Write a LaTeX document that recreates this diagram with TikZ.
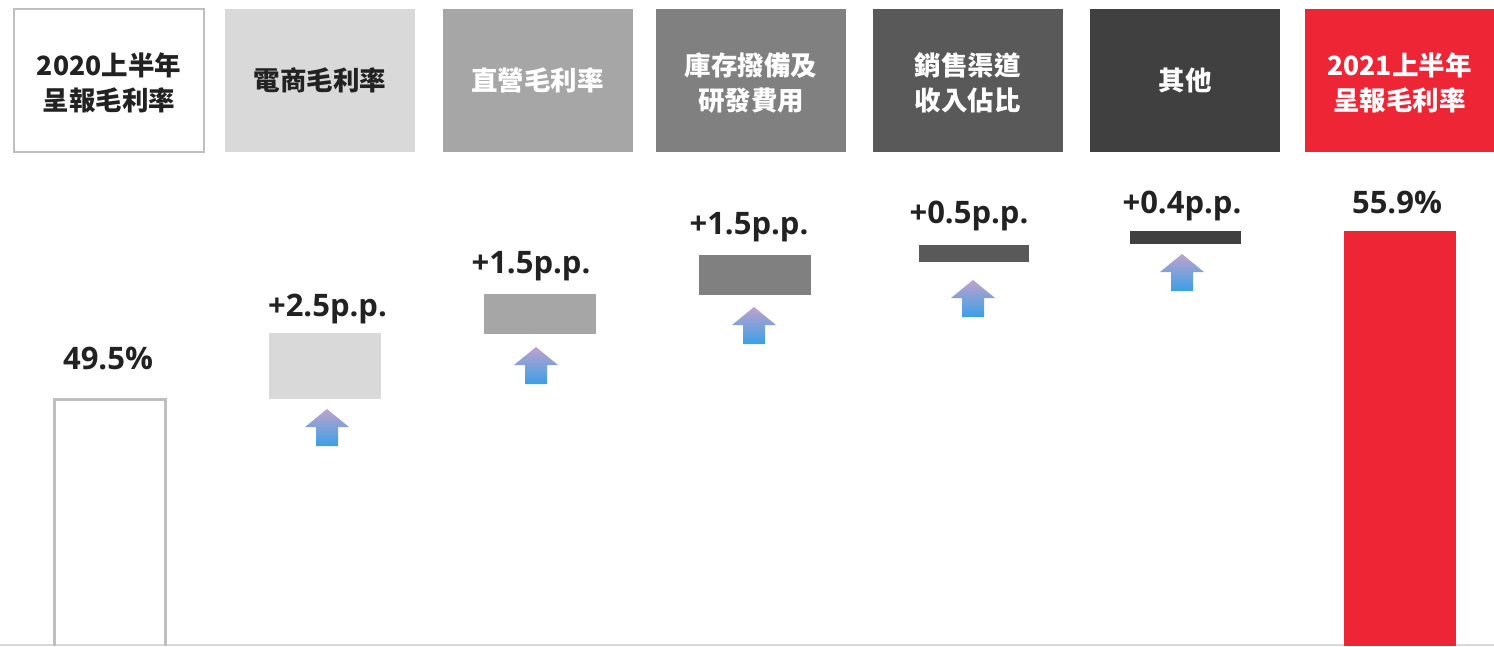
\documentclass[tikz,border=0pt]{standalone}
\usepackage{fontspec}
\setmainfont{Open Sans}
\newfontfamily\cjk{Noto Sans CJK TC}
\usepackage{xcolor}
\usetikzlibrary{positioning}
\definecolor{txtDark}{HTML}{222222}
\definecolor{edgeGray}{HTML}{BFBFBF}
\definecolor{baseGray}{HTML}{D9D9D9}
\definecolor{shadeA}{HTML}{D9D9D9}
\definecolor{shadeB}{HTML}{A6A6A6}
\definecolor{shadeC}{HTML}{808080}
\definecolor{shadeD}{HTML}{595959}
\definecolor{shadeE}{HTML}{404040}
\definecolor{finalRed}{HTML}{EE2535}
\definecolor{arrTop}{HTML}{C0A2CC}
\definecolor{arrBot}{HTML}{3A9FE8}
\tikzset{
  hdrBox/.style={minimum width=190pt, minimum height=143pt, inner sep=0pt,
    align=center, font=\cjk\bfseries\fontsize{26.5}{35}\selectfont},
  hdrLight/.style={hdrBox, text=txtDark},
  hdrDark/.style={hdrBox, text=white},
  valLabel/.style={anchor=base, text=txtDark, font=\bfseries\fontsize{31}{36}\selectfont},
  upArrow/.style={top color=arrTop, bottom color=arrBot, draw=none}
}
% up arrow: tip x, tip y
\newcommand{\gainArrow}[2]{%
  \shade[upArrow] (#1,#2) -- ({#1+22},{#2+18}) -- ({#1+11},{#2+18})
    -- ({#1+11},{#2+37}) -- ({#1-11},{#2+37}) -- ({#1-11},{#2+18})
    -- ({#1-22},{#2+18}) -- cycle;}

\begin{document}
\begin{tikzpicture}[x=1pt, y=-1pt]
  \useasboundingbox (0,0) rectangle (1494,646);

  % headers
  \node[hdrLight, draw=edgeGray, line width=2.5pt] (h1) at (109,80.5) {};
  \node[hdrLight] (t1) at (109,83) {2020上半年\\呈報毛利率};
  \node[hdrLight, fill=shadeA] (h2) at (320,80.5) {電商毛利率};
  \node[hdrDark, fill=shadeB] (h3) at (537.5,80.5) {直營毛利率};
  \node[hdrDark, fill=shadeC] (h4) at (751,80.5) {};
  \node[hdrDark] (t4) at (751,83) {庫存撥備及\\研發費用};
  \node[hdrDark, fill=shadeD] (h5) at (967.5,80.5) {};
  \node[hdrDark] (t5) at (967.5,83) {銷售渠道\\收入佔比};
  \node[hdrDark, fill=shadeE] (h6) at (1185,80.5) {其他};
  \node[hdrDark, fill=finalRed] (h7) at (1399.5,80.5) {};
  \node[hdrDark] (t7) at (1399.5,83) {2021上半年\\呈報毛利率};

  % bars
  \draw[baseGray, line width=1.5pt] (0,645) -- (1494,645);
  \draw[edgeGray, line width=3.2pt] (54.5,646) |- (165.5,399.5) -- (165.5,646);
  \fill[shadeA] (269,333) rectangle (381,399);
  \fill[shadeB] (484,294) rectangle (596,334);
  \fill[shadeC] (699,255) rectangle (811,295);
  \fill[shadeD] (919,245) rectangle (1029,262);
  \fill[shadeE] (1130,231) rectangle (1241,244);
  \fill[finalRed] (1344,231) rectangle (1456,646);

  % arrows
  \gainArrow{327}{409}
  \gainArrow{536}{347}
  \gainArrow{754}{307}
  \gainArrow{973}{280}
  \gainArrow{1182}{254}

  % values
  \node[valLabel] (v1) at (108,369) {49.5\%};
  \node[valLabel] (v2) at (327.5,316) {+2.5p.p.};
  \node[valLabel] (v3) at (531,273) {+1.5p.p.};
  \node[valLabel] (v4) at (749,234) {+1.5p.p.};
  \node[valLabel] (v5) at (969,223) {+0.5p.p.};
  \node[valLabel] (v6) at (1182,213) {+0.4p.p.};
  \node[valLabel] (v7) at (1397,213) {55.9\%};
\end{tikzpicture}
\end{document}
